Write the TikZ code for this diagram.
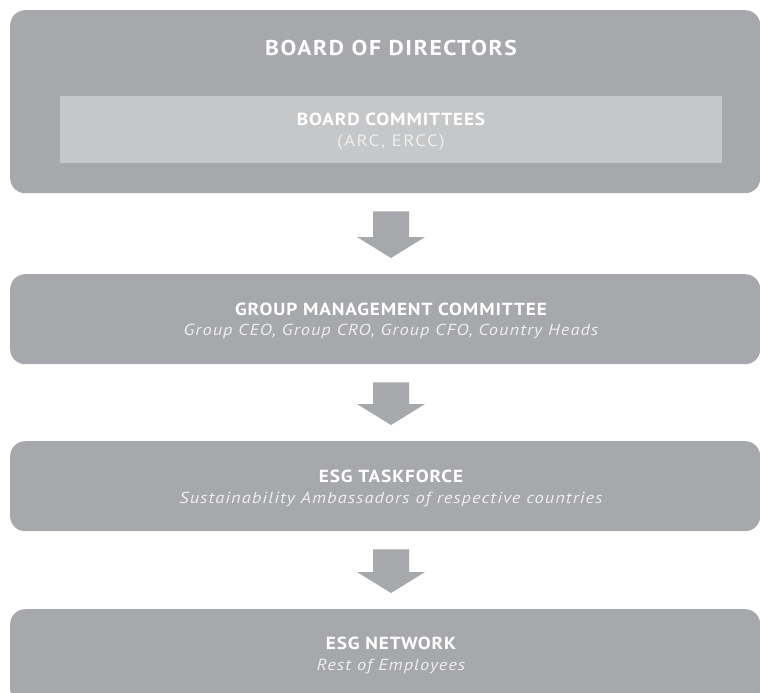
\documentclass[tikz,border=0pt]{standalone}
\usepackage{fontspec}
\setmainfont{PT Sans}
\newfontfamily\bigfont[FakeStretch=1.1, LetterSpace=7.5]{PT Sans}
\newfontfamily\titlefont[FakeStretch=1.1, LetterSpace=5]{PT Sans}
\newfontfamily\subfont[FakeStretch=1.15, LetterSpace=6.5]{PT Sans}
\newfontfamily\parenfont[FakeStretch=1.15, LetterSpace=9]{PT Sans}
\usetikzlibrary{calc}
\definecolor{boxgray}{HTML}{A7A8AB}
\definecolor{innergray}{HTML}{C6C7C9}
\definecolor{subtext}{HTML}{EEEEEE}
\tikzset{
  box/.style={fill=boxgray, rounded corners=15pt, inner sep=0pt, minimum width=750pt, anchor=north west},
  inner/.style={fill=innergray, inner sep=0pt, minimum width=662pt, minimum height=67pt, anchor=north west},
  bigtitle/.style={text=white, font=\bigfont\bfseries\fontsize{21.4}{24}\selectfont, inner sep=0pt},
  title/.style={text=white, font=\titlefont\bfseries\fontsize{17.5}{20}\selectfont, inner sep=0pt},
  sub/.style={text=subtext, font=\subfont\itshape\fontsize{16}{19}\selectfont, inner sep=0pt},
  subup/.style={text=subtext, font=\parenfont\fontsize{16.5}{19}\selectfont, inner sep=0pt},
  blockarrow/.style={fill=boxgray}
}
\begin{document}
\begin{tikzpicture}[x=1pt,y=-1pt]
\clip (0,0) rectangle (760,693);
\fill[white] (0,0) rectangle (760,693);
% boxes
\node[box, minimum height=183pt] (b1) at (10,10) {};
\node[inner] (in) at (60,96) {};
\node[box, minimum height=90pt] (b2) at (10,274) {};
\node[box, minimum height=90pt] (b3) at (10,441) {};
\node[box, minimum height=95pt] (b4) at (10,609) {};
% texts
\node[bigtitle] (t1) at (391,48) {BOARD OF DIRECTORS};
\node[title] (t1a) at (391,119) {BOARD COMMITTEES};
\node[subup] (t1b) at (391,142) {(ARC, ERCC)};
\node[title] (t2) at (391,309) {GROUP MANAGEMENT COMMITTEE};
\node[sub] (t2b) at (391,331) {Group CEO, Group CRO, Group CFO, Country Heads};
\node[title] (t3) at (391,476) {ESG TASKFORCE};
\node[sub] (t3b) at (391,499) {Sustainability Ambassadors of respective countries};
\node[title] (t4) at (391,643) {ESG NETWORK};
\node[sub] (t4b) at (391,666) {Rest of Employees};
% block arrows between boxes
\foreach \a/\b in {b1/b2, b2/b3, b3/b4}{
  \coordinate (s) at ($(\a.south west)+(381,18)$);
  \coordinate (e) at ($(\b.north west)+(381,-16)$);
  \fill[blockarrow] ($(s)+(-18,0)$) -- ($(s)+(18,0)$) -- ($(e)+(18,-21)$) -- ($(e)+(34,-21)$)
     -- (e) -- ($(e)+(-34,-21)$) -- ($(e)+(-18,-21)$) -- cycle;
}
\end{tikzpicture}
\end{document}
